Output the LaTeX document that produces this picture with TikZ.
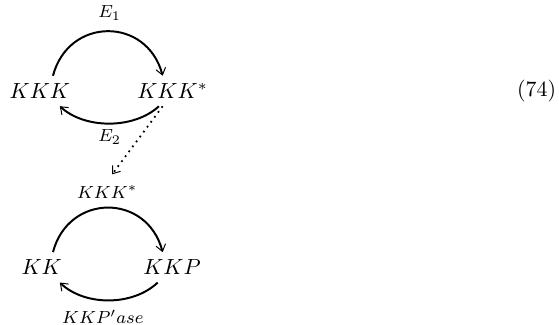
\documentclass[tikz,border=0pt]{standalone}
\usepackage{amsmath}
\usepackage{tikz}
\usetikzlibrary{arrows.meta,calc,positioning}
\tikzset{>={Straight Barb[length=3pt,width=4.5pt,line width=0.45pt]},
         cyc/.style={line width=0.9pt,->},
         lbl/.style={font=\footnotesize}}

\begin{document}
\begin{tikzpicture}
\useasboundingbox (0,0) rectangle (8.97,5.20);
%\node at (-1,6.5) {\textbf{a)}};
\node (kkk) at (0.64,3.74) {$KKK$};
\node (kkks) at (2.77,3.74) {$KKK^*$};
\node (kk) at (0.67,0.91) {$KK$};
\node (kkp) at (2.76,0.91) {$KKP$};

\node[lbl] (e1) at (1.76,4.99) {$E_1$};
\node[lbl] (e2) at (1.76,3.00) {$E_2$};
\node[lbl] (kin) at (1.72,2.12) {$KKK^*$};
\node[lbl] (pase) at (1.65,0.11) {$KKP'ase$};

\node (eqno) at (8.61,3.74) {(74)};

% upper cycle
\draw[cyc] ([xshift=0.21cm]kkk.north) .. controls +(0.25,0.95) and +(-0.25,0.95) .. ([xshift=-0.16cm]kkks.north);
\draw[cyc] ([xshift=-0.22cm]kkks.south) .. controls +(-0.4,-0.37) and +(0.4,-0.37) .. ([xshift=0.32cm]kkk.south);
% kinase acts on lower cycle
\draw[thick,dotted,->] ([xshift=-0.16cm]kkks.south) -- ([xshift=0.08cm,yshift=0.06cm]kin.north);
% lower cycle
\draw[cyc] ([xshift=0.18cm]kk.north) .. controls +(0.25,0.95) and +(-0.25,0.95) .. ([xshift=-0.15cm]kkp.north);
\draw[cyc] ([xshift=-0.23cm]kkp.south) .. controls +(-0.4,-0.38) and +(0.4,-0.38) .. ([xshift=0.29cm]kk.south);
\end{tikzpicture}
\end{document}
